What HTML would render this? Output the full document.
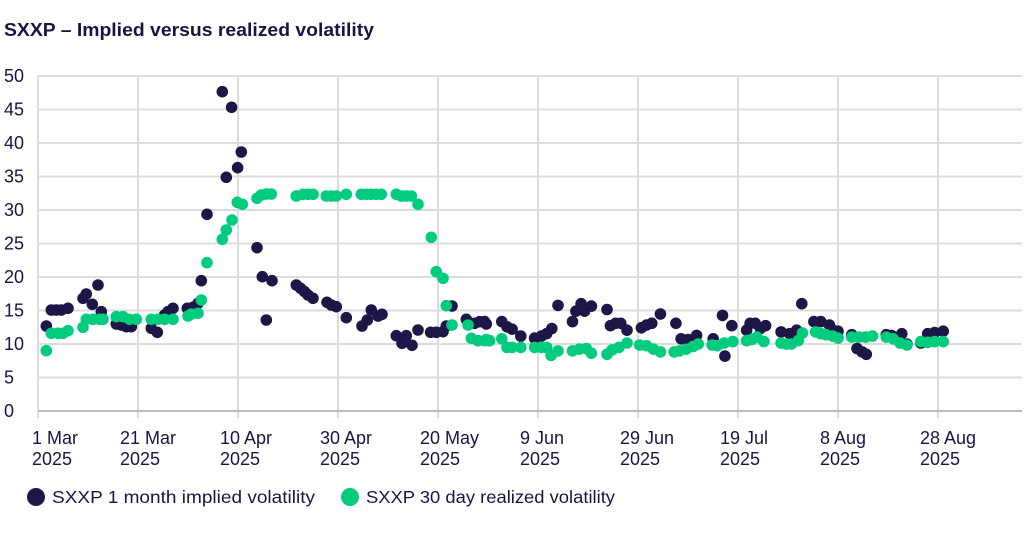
<!DOCTYPE html>
<html><head><meta charset="utf-8"><style>
html,body{margin:0;padding:0;background:#fff;width:1024px;height:542px;overflow:hidden}
svg{display:block;font-family:"Liberation Sans","DejaVu Sans",sans-serif}
</style></head><body>
<svg id="s" width="1024" height="542" xmlns="http://www.w3.org/2000/svg">
<text x="4" y="36" font-size="18" font-weight="bold" fill="#1a1446" textLength="370" lengthAdjust="spacingAndGlyphs">SXXP – Implied versus realized volatility</text>
<g id="grid" stroke="#dcdcdc" stroke-width="2"></g>
<g id="lab" font-size="18" fill="#1a1446"></g>
<g id="pts"></g>
<circle cx="36" cy="497" r="9" fill="#1c1746"/>
<text x="52" y="503" font-size="17.5" fill="#1a1446" textLength="263" lengthAdjust="spacingAndGlyphs">SXXP 1 month implied volatility</text>
<circle cx="350" cy="497" r="9" fill="#00cc7e"/>
<text x="366" y="503" font-size="17.5" fill="#1a1446" textLength="249" lengthAdjust="spacingAndGlyphs">SXXP 30 day realized volatility</text>
</svg>
<script>
var NS="http://www.w3.org/2000/svg";
function el(p,t,a,txt){var e=document.createElementNS(NS,t);for(var k in a)e.setAttribute(k,a[k]);if(txt!=null)e.textContent=txt;document.getElementById(p).appendChild(e);}
for(var i=0;i<=10;i++){var y=411-i*33.5;el("grid","line",{x1:38,x2:1022,y1:y,y2:y});el("lab","text",{x:4,y:y+6},String(i*5));}
var xl=[["1 Mar","2025"],["21 Mar","2025"],["10 Apr","2025"],["30 Apr","2025"],["20 May","2025"],["9 Jun","2025"],["29 Jun","2025"],["19 Jul","2025"],["8 Aug","2025"],["28 Aug","2025"]];
for(var j=0;j<10;j++){var x=38+j*100;el("grid","line",{x1:x,x2:x,y1:76,y2:418});
var lx=j==0?32:x-18;
el("lab","text",{x:lx,y:444},xl[j][0]);el("lab","text",{x:lx,y:465},xl[j][1]);}
el("grid","line",{x1:38,x2:1022,y1:411,y2:411,stroke:"#bbbbbb"});
var d1=[[45,768],[60,720],[75,720],[90,720],[110,715],[155,685],[165,672],[183,703],[200,645],[210,725],[255,762],[270,765],[285,770],[300,770],[360,775],[378,787],[400,735],[410,725],[425,715],[468,715],[485,712],[500,700],[510,632],[527,433],[573,65],[585,322],[601,112],[619,293],[630,246],[677,533],[693,620],[705,750],[722,632],[795,645],[808,655],[820,665],[830,675],[845,685],[887,697],[900,705],[915,710],[945,743],[992,768],[1008,750],[1020,720],[1040,738],[1052,733],[1095,797],[1112,820],[1125,797],[1142,826],[1160,780],[1198,787],[1215,787],[1235,785],[1245,768],[1262,708],[1305,748],[1330,760],[1345,755],[1365,762]];
var g1=[[45,842],[60,790],[80,790],[95,790],[110,782],[155,772],[165,748],[185,748],[205,748],[215,748],[255,740],[275,740],[295,748],[315,748],[360,748],[380,748],[400,748],[425,748],[470,738],[480,732],[500,730],[510,690],[527,578],[573,508],[585,480],[602,450],[618,397],[633,403],[677,385],[690,375],[705,372],[720,372],[795,378],[815,373],[830,373],[845,373],[885,378],[900,378],[915,378],[945,373],[990,373],[1005,373],[1020,373],[1035,373],[1050,373],[1095,373],[1110,378],[1125,378],[1140,378],[1160,403],[1200,502],[1215,605],[1235,625],[1245,707],[1262,765],[1310,765],[1320,805],[1340,812],[1360,812],[1375,812]];
var d2=[[185,130],[235,130],[250,145],[265,152],[290,172],[330,178],[350,172],[365,165],[380,150],[398,83],[440,130],[450,100],[465,78],[475,100],[495,85],[540,95],[550,142],[565,135],[580,135],[598,155],[640,148],[655,140],[670,135],[695,108],[740,135],[755,180],[775,182],[800,170],[848,180],[875,112],[882,230],[902,142],[945,155],[955,135],[970,135],[985,150],[1000,142],[1045,160],[1070,165],[1090,155],[1105,78],[1140,130],[1160,130],[1185,140],[1195,155],[1210,158],[1250,168],[1265,208],[1280,218],[1292,225],[1350,168],[1365,170],[1395,165],[1410,195],[1450,192],[1470,165],[1490,162],[1515,158]];
var g2=[[190,182],[235,180],[250,205],[265,205],[290,205],[330,205],[350,205],[365,205],[378,228],[398,215],[440,215],[460,210],[480,208],[495,222],[540,225],[555,212],[575,205],[598,192],[635,198],[655,200],[675,210],[695,218],[735,218],[750,215],[770,210],[790,202],[805,195],[845,198],[860,200],[880,192],[905,188],[945,185],[960,182],[975,175],[995,188],[1045,192],[1060,195],[1075,195],[1095,185],[1107,163],[1145,160],[1160,165],[1175,168],[1195,172],[1210,178],[1250,175],[1270,175],[1290,175],[1310,172],[1350,175],[1370,180],[1390,192],[1410,198],[1450,188],[1470,190],[1490,188],[1515,188]];
function z1(p){return [31.3+p[0]/3,70+p[1]/3];}
function z2(p){return [438+(p[0]-50)/2.9,344+(p[1]-195)/2.9];}
function draw(a,f,c){a.forEach(function(p){var q=f(p);el("pts","circle",{cx:q[0].toFixed(1),cy:q[1].toFixed(1),r:5.8,fill:c});});}
draw(d1,z1,"#1c1746");draw(d2,z2,"#1c1746");
draw(g1,z1,"#00cc7e");draw(g2,z2,"#00cc7e");
</script>
</body></html>
